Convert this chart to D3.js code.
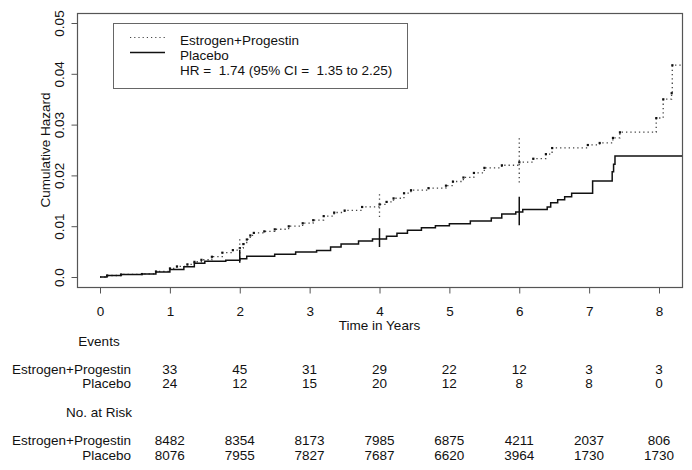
<!DOCTYPE html>
<html>
<head>
<meta charset="utf-8">
<script src="https://cdn.jsdelivr.net/npm/d3@7"></script>
<style>
  html, body { margin: 0; padding: 0; background: #fff; }
  svg { display: block; }
  text { font-family: "Liberation Sans", Arial, sans-serif; fill: #111; white-space: pre; }
</style>
</head>
<body>
<div id="chart"></div>
<script>
// ---- data ----
const placeboTimes = [0, 0.1, 0.3, 0.6, 0.8, 1.0, 1.2, 1.35, 1.5, 1.8, 2.0, 2.1, 2.5, 2.8, 3.1, 3.3, 3.45, 3.7, 3.9, 4.1, 4.25, 4.4, 4.6, 4.8, 5.0, 5.3, 5.6, 5.75, 5.95, 6.05, 6.4, 6.45, 6.55, 6.65, 6.75, 7.05, 7.33, 7.35, 7.37, 8.33];
const placeboHaz   = [0, 0.0003, 0.0005, 0.0006, 0.0010, 0.0015, 0.0020, 0.0027, 0.0031, 0.0033, 0.0036, 0.0041, 0.0045, 0.0049, 0.0052, 0.0059, 0.0065, 0.0071, 0.0075, 0.0080, 0.0086, 0.0092, 0.0097, 0.0101, 0.0105, 0.0110, 0.0116, 0.0124, 0.0128, 0.0133, 0.0138, 0.0146, 0.0152, 0.0158, 0.0165, 0.0189, 0.0207, 0.0222, 0.0238, 0.0238];
const epTimes = [0, 0.1, 0.3, 0.6, 0.8, 1.0, 1.1, 1.25, 1.35, 1.45, 1.6, 1.75, 1.9, 2.0, 2.05, 2.1, 2.15, 2.2, 2.35, 2.5, 2.7, 2.9, 3.05, 3.2, 3.35, 3.5, 3.75, 4.0, 4.1, 4.2, 4.35, 4.45, 4.7, 4.95, 5.05, 5.2, 5.35, 5.5, 5.75, 6.0, 6.2, 6.38, 6.47, 6.98, 7.15, 7.34, 7.44, 7.96, 8.06, 8.18, 8.19, 8.33];
const epHaz   = [0, 0.0003, 0.0005, 0.0006, 0.0011, 0.0017, 0.0021, 0.0025, 0.0030, 0.0034, 0.0040, 0.0048, 0.0053, 0.0057, 0.0065, 0.0074, 0.0082, 0.0087, 0.0090, 0.0094, 0.0100, 0.0106, 0.0112, 0.0120, 0.0127, 0.0131, 0.0138, 0.0143, 0.0148, 0.0155, 0.0165, 0.0171, 0.0175, 0.0180, 0.0188, 0.0196, 0.0205, 0.0215, 0.0220, 0.0226, 0.0233, 0.0242, 0.0254, 0.0260, 0.0264, 0.0274, 0.0285, 0.0313, 0.0350, 0.0362, 0.0417, 0.0417];
const ciTimes = [2, 4, 6];
const placeboLo = [0.0028, 0.0059, 0.0102];
const placeboHi = [0.0053, 0.0096, 0.0158];
const epLo = [0.0038, 0.0118, 0.0186];
const epHi = [0.0078, 0.0164, 0.0276];
const xTicks = [0, 1, 2, 3, 4, 5, 6, 7, 8];
const yTicks = [0, 0.01, 0.02, 0.03, 0.04, 0.05];
const yTickLabels = ["0.0", "0.01", "0.02", "0.03", "0.04", "0.05"];
const tableTimes = [1, 2, 3, 4, 5, 6, 7, 8];
const groupNames = ["Estrogen+Progestin", "Placebo"];
const epEvents = [33, 45, 31, 29, 22, 12, 3, 3];
const placeboEvents = [24, 12, 15, 20, 12, 8, 8, 0];
const epRisk = [8482, 8354, 8173, 7985, 6875, 4211, 2037, 806];
const placeboRisk = [8076, 7955, 7827, 7687, 6620, 3964, 1730, 1730];
const legendLines = ["Estrogen+Progestin", "Placebo", "HR =  1.74 (95% CI =  1.35 to 2.25)"];

// ---- layout ----
const W = 692, H = 470;
const box = { left: 77, right: 682, top: 13, bottom: 287 };
const x = d3.scaleLinear().domain([0, 8]).range([100, 659]);
const y = d3.scaleLinear().domain([0, 0.05]).range([277, 23]);

const svg = d3.select("#chart").append("svg").attr("width", W).attr("height", H);
svg.append("rect").attr("width", W).attr("height", H).attr("fill", "#fff");

const axisColor = "#555";
// box
svg.append("rect")
  .attr("x", box.left + 0.5).attr("y", box.top + 0.5)
  .attr("width", box.right - box.left).attr("height", box.bottom - box.top)
  .attr("fill", "none").attr("stroke", axisColor).attr("stroke-width", 1.2);

// x axis
const xAxis = d3.axisBottom(x).tickValues(xTicks).tickSize(6).tickPadding(13).tickFormat(d3.format("d"));
const gx = svg.append("g").attr("transform", `translate(0,${box.bottom + 0.5})`).call(xAxis);
gx.select(".domain").remove();
gx.selectAll("line").attr("stroke", axisColor);
gx.selectAll("text").attr("font-size", 13.5).attr("font-family", "Liberation Sans, Arial, sans-serif").attr("fill", "#111");

// y axis
const yAxis = d3.axisLeft(y).tickValues(yTicks).tickSize(6).tickFormat((d, i) => yTickLabels[i]);
const gy = svg.append("g").attr("transform", `translate(${box.left + 0.5},0)`).call(yAxis);
gy.select(".domain").remove();
gy.selectAll("line").attr("stroke", axisColor);
gy.selectAll("text")
  .attr("font-size", 13.5).attr("font-family", "Liberation Sans, Arial, sans-serif").attr("fill", "#111")
  .attr("text-anchor", "middle").attr("dy", null).attr("x", null)
  .attr("transform", "translate(-14,0) rotate(-90)");

// axis titles
svg.append("text").attr("x", x(4)).attr("y", 330).attr("text-anchor", "middle")
  .attr("font-size", 13.5).text("Time in Years");
svg.append("text").attr("transform", `translate(50,${(box.top + box.bottom) / 2}) rotate(-90)`)
  .attr("text-anchor", "middle").attr("font-size", 13.5).text("Cumulative Hazard");

// curves
const step = d3.line().x(d => x(d[0])).y(d => y(d[1])).curve(d3.curveStepAfter);
const placeboPts = placeboTimes.map((t, i) => [t, placeboHaz[i]]);
const epPts = epTimes.map((t, i) => [t, epHaz[i]]);

svg.append("path").attr("d", step(epPts)).attr("fill", "none")
  .attr("stroke", "#444").attr("stroke-width", 1.3).attr("stroke-dasharray", "1.3,3");
// event dots on E+P
svg.append("g").selectAll("rect").data(epPts.slice(1, -1)).join("rect")
  .attr("x", d => x(d[0]) - 1).attr("y", d => y(d[1]) - 1)
  .attr("width", 2.2).attr("height", 2.2).attr("fill", "#111");

svg.append("path").attr("d", step(placeboPts)).attr("fill", "none")
  .attr("stroke", "#111").attr("stroke-width", 1.5);

// CI bars
svg.append("g").selectAll("line").data(ciTimes).join("line")
  .attr("x1", d => x(d)).attr("x2", d => x(d))
  .attr("y1", (d, i) => y(epLo[i])).attr("y2", (d, i) => y(epHi[i]))
  .attr("stroke", "#444").attr("stroke-width", 1.3).attr("stroke-dasharray", "1.3,3");
svg.append("g").selectAll("line").data(ciTimes).join("line")
  .attr("x1", d => x(d)).attr("x2", d => x(d))
  .attr("y1", (d, i) => y(placeboLo[i])).attr("y2", (d, i) => y(placeboHi[i]))
  .attr("stroke", "#111").attr("stroke-width", 1.5);

// legend
const lg = svg.append("g");
lg.append("rect").attr("x", 113.5).attr("y", 23.5).attr("width", 294).attr("height", 65)
  .attr("fill", "#fff").attr("stroke", "#666").attr("stroke-width", 1);
lg.append("line").attr("x1", 130).attr("x2", 165).attr("y1", 37.5).attr("y2", 37.5)
  .attr("stroke", "#444").attr("stroke-width", 1.2).attr("stroke-dasharray", "1.2,3");
lg.append("line").attr("x1", 130).attr("x2", 165).attr("y1", 52.5).attr("y2", 52.5)
  .attr("stroke", "#111").attr("stroke-width", 1.5);
lg.selectAll("text.lt").data(legendLines).join("text").attr("class", "lt")
  .attr("x", 180).attr("y", (d, i) => 45 + i * 15).attr("font-size", 13.5).text(d => d);

// table
const tbl = svg.append("g").attr("font-size", 13.5);
const tableRows = [
  { head: "Events", hy: 346, rows: [epEvents, placeboEvents], ry: [374, 388] },
  { head: "No. at Risk", hy: 417, rows: [epRisk, placeboRisk], ry: [445, 460] }
];
tableRows.forEach(sec => {
  tbl.append("text").attr("x", 99).attr("y", sec.hy).attr("text-anchor", "middle").text(sec.head);
  sec.rows.forEach((vals, r) => {
    tbl.append("text").attr("x", 131).attr("y", sec.ry[r]).attr("text-anchor", "end").text(groupNames[r]);
    tbl.append("g").selectAll("text").data(vals).join("text")
      .attr("x", (d, i) => x(tableTimes[i])).attr("y", sec.ry[r])
      .attr("text-anchor", "middle").text(d => d);
  });
});
</script>
</body>
</html>
